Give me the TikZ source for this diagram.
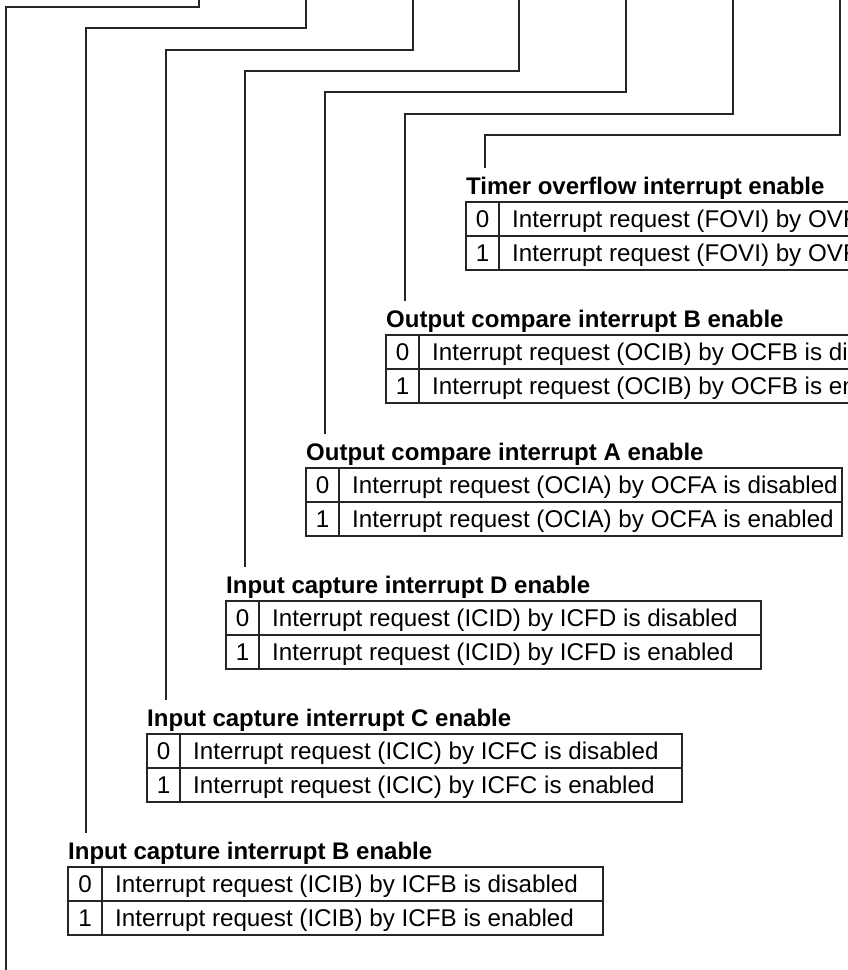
\documentclass[tikz,border=0pt]{standalone}
\usepackage{fontspec}
\setmainfont{Liberation Sans}
\begin{document}
\begin{tikzpicture}[x=1pt, y=-1pt,
    wire/.style={line width=1.2pt, black!85},
    grid/.style={line width=1.1pt, black!85},
    ttl/.style={anchor=base west, inner sep=0pt, font=\fontsize{24}{28}\selectfont\bfseries},
    num/.style={inner sep=0pt, text height=17pt, text depth=0pt, font=\fontsize{24.2}{28}\selectfont},
    desc/.style={anchor=west, inner sep=0pt, text height=17pt, text depth=0pt, font=\fontsize{24.2}{28}\selectfont}]
    % page: 848 x 970, anything past the edge is cut off
    \clip (0,0) rectangle (848,970);

    % ==========================================
    % Bit positions (above the picture)
    % ==========================================
    \coordinate (bit0) at (840,-2);
    \coordinate (bit1) at (733,-2);
    \coordinate (bit2) at (626,-2);
    \coordinate (bit3) at (519,-2);
    \coordinate (bit4) at (413,-2);
    \coordinate (bit5) at (306,-2);
    \coordinate (bit6) at (199,-2);
    \coordinate (off6) at (6,975);

    % ==========================================
    % Timer overflow interrupt enable
    % ==========================================
    \node[ttl] (ttl0) at (466,194) {Timer overflow interrupt enable};
    \draw[grid] (466,202) rectangle (1001,270);
    \draw[grid] (466,236) -- (1001,236);
    \draw[grid] (499,202) -- (499,270);
    \node[num] (n00) at (482.5,219) {0};
    \node[desc] (d00) at (512,219) {Interrupt request (FOVI) by OVF is disabled};
    \node[num] (n01) at (482.5,253) {1};
    \node[desc] (d01) at (512,253) {Interrupt request (FOVI) by OVF is enabled};

    % ==========================================
    % Output compare interrupt B enable
    % ==========================================
    \node[ttl] (ttl1) at (386,327) {Output compare interrupt B enable};
    \draw[grid] (386,335) rectangle (921,403);
    \draw[grid] (386,369) -- (921,369);
    \draw[grid] (419,335) -- (419,403);
    \node[num] (n10) at (402.5,352) {0};
    \node[desc] (d10) at (432,352) {Interrupt request (OCIB) by OCFB is disabled};
    \node[num] (n11) at (402.5,386) {1};
    \node[desc] (d11) at (432,386) {Interrupt request (OCIB) by OCFB is enabled};

    % ==========================================
    % Output compare interrupt A enable
    % ==========================================
    \node[ttl] (ttl2) at (306,460) {Output compare interrupt A enable};
    \draw[grid] (306,468) rectangle (842,536);
    \draw[grid] (306,502) -- (842,502);
    \draw[grid] (339,468) -- (339,536);
    \node[num] (n20) at (322.5,485) {0};
    \node[desc] (d20) at (352,485) {Interrupt request (OCIA) by OCFA is disabled};
    \node[num] (n21) at (322.5,519) {1};
    \node[desc] (d21) at (352,519) {Interrupt request (OCIA) by OCFA is enabled};

    % ==========================================
    % Input capture interrupt D enable
    % ==========================================
    \node[ttl] (ttl3) at (226,593) {Input capture interrupt D enable};
    \draw[grid] (226,601) rectangle (761,669);
    \draw[grid] (226,635) -- (761,635);
    \draw[grid] (259,601) -- (259,669);
    \node[num] (n30) at (242.5,618) {0};
    \node[desc] (d30) at (272,618) {Interrupt request (ICID) by ICFD is disabled};
    \node[num] (n31) at (242.5,652) {1};
    \node[desc] (d31) at (272,652) {Interrupt request (ICID) by ICFD is enabled};

    % ==========================================
    % Input capture interrupt C enable
    % ==========================================
    \node[ttl] (ttl4) at (147,726) {Input capture interrupt C enable};
    \draw[grid] (147,734) rectangle (682,802);
    \draw[grid] (147,768) -- (682,768);
    \draw[grid] (180,734) -- (180,802);
    \node[num] (n40) at (163.5,751) {0};
    \node[desc] (d40) at (193,751) {Interrupt request (ICIC) by ICFC is disabled};
    \node[num] (n41) at (163.5,785) {1};
    \node[desc] (d41) at (193,785) {Interrupt request (ICIC) by ICFC is enabled};

    % ==========================================
    % Input capture interrupt B enable
    % ==========================================
    \node[ttl] (ttl5) at (68,859) {Input capture interrupt B enable};
    \draw[grid] (68,867) rectangle (603,935);
    \draw[grid] (68,901) -- (603,901);
    \draw[grid] (102,867) -- (102,935);
    \node[num] (n50) at (85,884) {0};
    \node[desc] (d50) at (115,884) {Interrupt request (ICIB) by ICFB is disabled};
    \node[num] (n51) at (85,918) {1};
    \node[desc] (d51) at (115,918) {Interrupt request (ICIB) by ICFB is enabled};

    % ==========================================
    % Leader lines from the bits down to each title
    % ==========================================
    \draw[wire] (bit0) -- ++(0,137) -| ([shift={(19,-8)}]ttl0.north west);
    \draw[wire] (bit1) -- ++(0,116) -| ([shift={(19,-8)}]ttl1.north west);
    \draw[wire] (bit2) -- ++(0,94) -| ([shift={(19,-8)}]ttl2.north west);
    \draw[wire] (bit3) -- ++(0,73) -| ([shift={(19,-8)}]ttl3.north west);
    \draw[wire] (bit4) -- ++(0,52) -| ([shift={(19,-8)}]ttl4.north west);
    \draw[wire] (bit5) -- ++(0,30) -| ([shift={(18,-8)}]ttl5.north west);
    % last one runs on past the bottom edge
    \draw[wire] (bit6) -- ++(0,9) -| (off6);
\end{tikzpicture}
\end{document}
